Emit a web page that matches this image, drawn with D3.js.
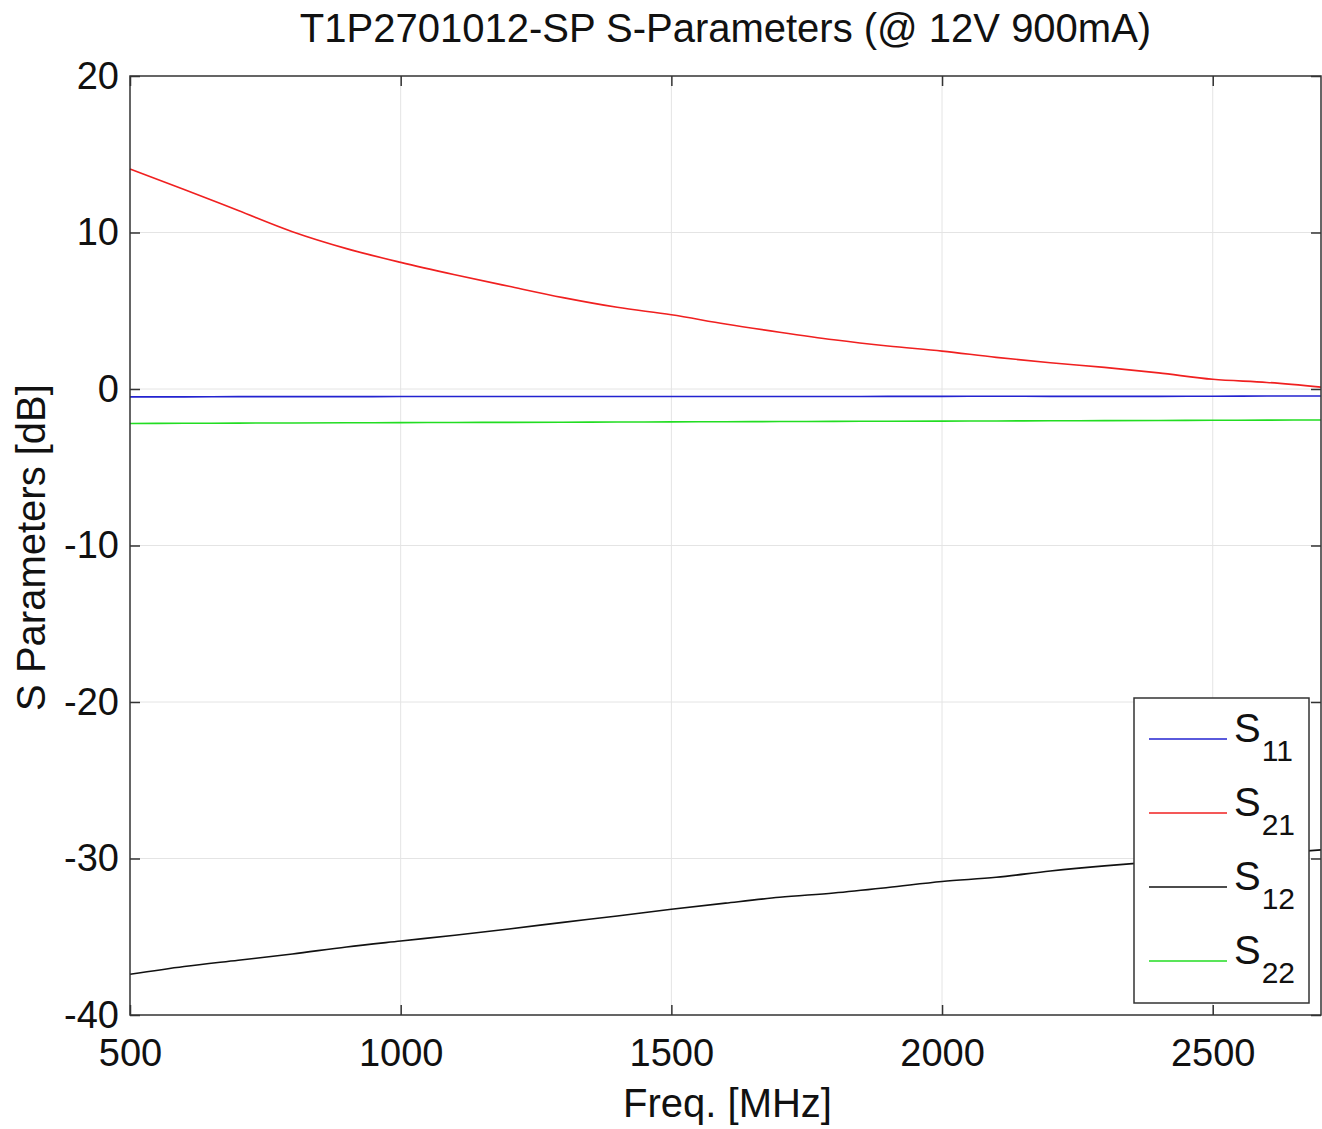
<!DOCTYPE html>
<html>
<head>
<meta charset="utf-8">
<script src="https://cdn.jsdelivr.net/npm/d3@7"></script>
<style>
  body { margin: 0; background: #fff; }
  svg { font-family: "Liberation Sans", Arial, sans-serif; }
</style>
</head>
<body>
<svg id="chart" width="1322" height="1129"></svg>
<script>
// ── Data ──────────────────────────────────────────────────────────────────────
const freq = [500, 600, 700, 800, 900, 1000, 1100, 1200, 1300, 1400, 1500, 1600,
  1700, 1800, 1900, 2000, 2100, 2200, 2300, 2400, 2500, 2600, 2700];
const s11 = [-0.5, -0.5, -0.49, -0.49, -0.49, -0.48, -0.48, -0.48, -0.48, -0.48, -0.48, -0.48,
  -0.48, -0.48, -0.47, -0.47, -0.46, -0.47, -0.47, -0.47, -0.46, -0.45, -0.45];
const s21 = [14.05, 12.75, 11.4, 10.05, 8.97, 8.09, 7.3, 6.56, 5.84, 5.22, 4.74, 4.15,
  3.63, 3.15, 2.75, 2.42, 2.02, 1.68, 1.38, 1.03, 0.62, 0.42, 0.12];
const s12 = [-37.4, -36.9, -36.5, -36.1, -35.65, -35.27, -34.9, -34.5, -34.08, -33.67, -33.24, -32.85,
  -32.48, -32.2, -31.85, -31.47, -31.2, -30.8, -30.47, -30.2, -29.95, -29.7, -29.45];
const s22 = [-2.2, -2.19, -2.18, -2.17, -2.16, -2.15, -2.14, -2.13, -2.12, -2.11, -2.1, -2.09,
  -2.08, -2.07, -2.06, -2.05, -2.04, -2.03, -2.02, -2.01, -2.0, -1.99, -1.98];

const xTicks = [500, 1000, 1500, 2000, 2500];
const yTicks = [-40, -30, -20, -10, 0, 10, 20];

const seriesList = [
  { name: "S", sub: "11", values: s11, color: "#2323d0" },
  { name: "S", sub: "21", values: s21, color: "#f02020" },
  { name: "S", sub: "12", values: s12, color: "#111111" },
  { name: "S", sub: "22", values: s22, color: "#22dd22" },
];

// ── Layout ────────────────────────────────────────────────────────────────────
const svg = d3.select("#chart");
const plotL = 130, plotR = 1321, plotT = 76, plotB = 1015;

const x = d3.scaleLinear().domain([500, 2700]).range([plotL, plotR]);
const y = d3.scaleLinear().domain([-40, 20]).range([plotB, plotT]);

// grid
svg.append("g").selectAll("line").data(xTicks.slice(1)).join("line")
  .attr("x1", d => x(d)).attr("x2", d => x(d))
  .attr("y1", plotT).attr("y2", plotB)
  .attr("stroke", "#e4e4e4").attr("stroke-width", 1);
svg.append("g").selectAll("line").data(yTicks.slice(1, -1)).join("line")
  .attr("x1", plotL).attr("x2", plotR)
  .attr("y1", d => y(d)).attr("y2", d => y(d))
  .attr("stroke", "#e4e4e4").attr("stroke-width", 1);

// lines
const line = d3.line().x((d, i) => x(freq[i])).y(d => y(d)).curve(d3.curveMonotoneX);
svg.append("g").selectAll("path").data(seriesList).join("path")
  .attr("d", d => line(d.values))
  .attr("fill", "none")
  .attr("stroke", d => d.color)
  .attr("stroke-width", 1.6);

// axes (ticks inward, mirrored on top/right); plain hyphen for negatives
const fmt = d => String(d);
const axisStyle = g => {
  g.select(".domain").remove();
  g.selectAll(".tick line").attr("stroke", "#333").attr("stroke-width", 1.5);
  g.selectAll("text").attr("fill", "#111").attr("font-size", 38);
};
svg.append("g").attr("transform", `translate(0,${plotB})`)
  .call(d3.axisBottom(x).tickValues(xTicks).tickSizeInner(-10).tickPadding(24).tickFormat(fmt))
  .call(axisStyle);
svg.append("g").attr("transform", `translate(${plotL},0)`)
  .call(d3.axisLeft(y).tickValues(yTicks).tickSizeInner(-10).tickPadding(11).tickFormat(fmt))
  .call(axisStyle);
svg.append("g").attr("transform", `translate(0,${plotT})`)
  .call(d3.axisTop(x).tickValues(xTicks).tickSizeInner(-10).tickFormat(""))
  .call(axisStyle);
svg.append("g").attr("transform", `translate(${plotR},0)`)
  .call(d3.axisRight(y).tickValues(yTicks).tickSizeInner(-10).tickFormat(""))
  .call(axisStyle);

svg.append("rect")
  .attr("x", plotL).attr("y", plotT)
  .attr("width", plotR - plotL).attr("height", plotB - plotT)
  .attr("fill", "none").attr("stroke", "#333").attr("stroke-width", 1.5);

// titles
svg.append("text")
  .attr("x", (plotL + plotR) / 2).attr("y", 42)
  .attr("text-anchor", "middle").attr("font-size", 40).attr("fill", "#111")
  .text("T1P2701012-SP S-Parameters (@ 12V 900mA)");
svg.append("text")
  .attr("x", (plotL + plotR) / 2 + 2).attr("y", 1117)
  .attr("text-anchor", "middle").attr("font-size", 40).attr("fill", "#111")
  .text("Freq. [MHz]");
svg.append("text")
  .attr("transform", `translate(45,${(plotT + plotB) / 2 + 2}) rotate(-90)`)
  .attr("text-anchor", "middle").attr("font-size", 40).attr("fill", "#111")
  .text("S Parameters [dB]");

// ── Legend ────────────────────────────────────────────────────────────────────
const legend = svg.append("g").attr("transform", "translate(1134,698)");
legend.append("rect")
  .attr("width", 175).attr("height", 305)
  .attr("fill", "#fff").attr("stroke", "#333").attr("stroke-width", 1.5);
const item = legend.selectAll(".item").data(seriesList).join("g")
  .attr("class", "item")
  .attr("transform", (d, i) => `translate(0,${41 + i * 74})`);
item.append("line")
  .attr("x1", 15).attr("x2", 93)
  .attr("stroke", d => d.color).attr("stroke-width", 1.6);
const label = item.append("text").attr("x", 100).attr("y", 3).attr("fill", "#111");
label.append("tspan").attr("font-size", 40).text(d => d.name);
label.append("tspan").attr("font-size", 30).attr("dx", 1).attr("dy", 19).text(d => d.sub);
</script>
</body>
</html>
